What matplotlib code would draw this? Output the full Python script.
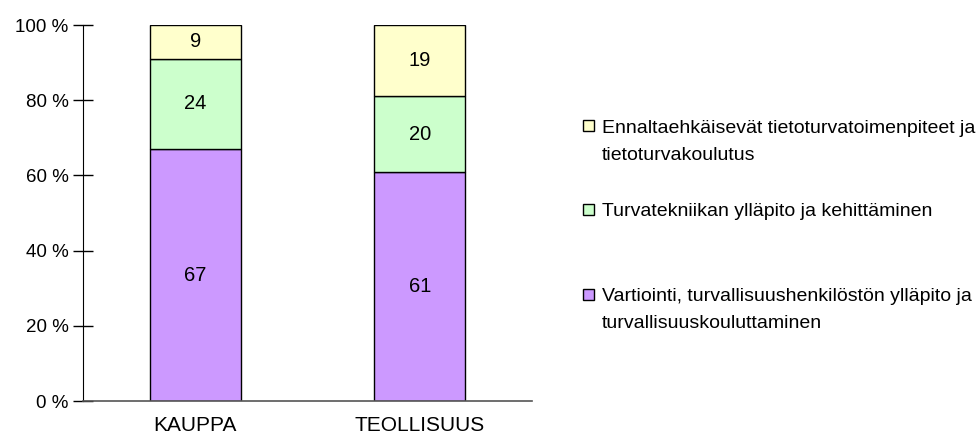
import matplotlib
matplotlib.use('Agg')
import matplotlib.pyplot as plt
from matplotlib.patches import Rectangle
from matplotlib.ticker import FuncFormatter

plt.rcParams['font.family'] = ['Liberation Sans', 'DejaVu Sans']

# osuudet toimialoittain (%)
toimialat = ['KAUPPA', 'TEOLLISUUS']
vartiointi = [67, 61]
turvatekniikka = [24, 20]
ennaltaehkaisy = [9, 19]

sarjat = [
    (vartiointi, '#CC99FF',
     'Vartiointi, turvallisuushenkilöstön ylläpito ja\nturvallisuuskouluttaminen'),
    (turvatekniikka, '#CCFFCC', 'Turvatekniikan ylläpito ja kehittäminen'),
    (ennaltaehkaisy, '#FFFFCC',
     'Ennaltaehkäisevät tietoturvatoimenpiteet ja\ntietoturvakoulutus'),
]

W, H = 979, 441
fig = plt.figure(figsize=(W / 100, H / 100), dpi=100)
ax = fig.add_axes([83 / W, 1 - 401 / H, 449 / W, 376 / H])

x = list(range(len(toimialat)))
pohja = [0] * len(toimialat)
for arvot, vari, _ in sarjat:
    ax.bar(x, arvot, width=0.405, bottom=pohja, color=vari,
           edgecolor='black', linewidth=1, zorder=2)
    for i, v in enumerate(arvot):
        ax.text(x[i], pohja[i] + v / 2, str(v), ha='center', va='center',
                fontsize=14.5, zorder=3)
    pohja = [p + v for p, v in zip(pohja, arvot)]

ax.set_xlim(-0.5, 1.5)
ax.set_ylim(0, 100)
ax.set_yticks(range(0, 101, 20))
ax.yaxis.set_major_formatter(FuncFormatter(lambda v, _: f'{v:.0f} %'))
ax.set_xticks(x)
ax.set_xticklabels(toimialat)
ax.tick_params(axis='y', direction='inout', length=15, width=1, labelsize=13.5, pad=3)
ax.tick_params(axis='x', length=0, labelsize=15, pad=11)
for s in ('top', 'right'):
    ax.spines[s].set_visible(False)
ax.spines['left'].set_color('black')
ax.spines['bottom'].set_color('#555555')
ax.spines['bottom'].set_linewidth(1.2)
ax.spines['bottom'].set_zorder(4)

# selite oikealle, ylin sarja ensin; y = ensimmäisen rivin keskikohta pikseleinä
selite_y = [126, 209, 294]
rivivali = 27
for (arvot, vari, teksti), yp in zip(reversed(sarjat), selite_y):
    fig.patches.append(Rectangle((583 / W, 1 - (yp + 5.5) / H), 11 / W, 11 / H,
                                 transform=fig.transFigure, facecolor=vari,
                                 edgecolor='black', linewidth=1))
    for k, rivi in enumerate(teksti.split('\n')):
        fig.text(602 / W, 1 - (yp + 7 + k * rivivali) / H, rivi,
                 ha='left', va='baseline', fontsize=14)

fig.savefig('out.png', dpi=100)
